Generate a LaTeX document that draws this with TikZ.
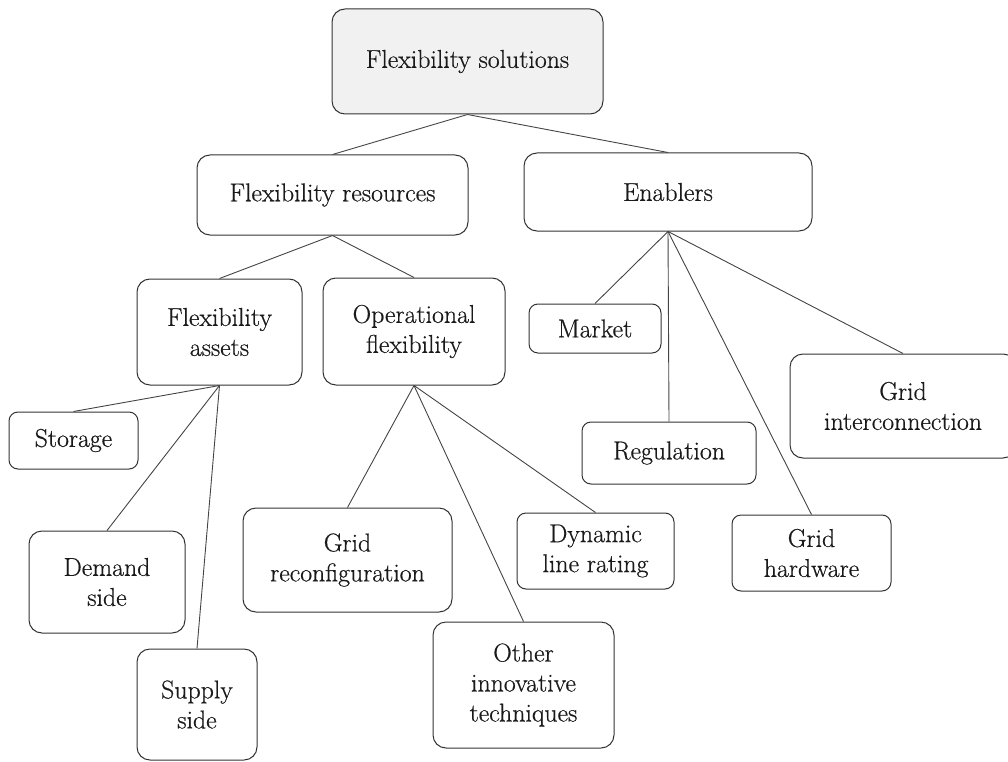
\documentclass[tikz,border=0pt]{standalone}
\usepackage{fontspec}
\newfontfamily\boxfont{Latin Modern Roman}[FakeBold=0.5]
\definecolor{boxline}{HTML}{333333}
\definecolor{linkline}{HTML}{444444}
\definecolor{rootfill}{HTML}{F1F1F1}
\definecolor{txt}{HTML}{1A1A1A}
\begin{document}
\begin{tikzpicture}[x=1pt,y=-1pt,
  box/.style={draw=boxline, line width=1pt, rounded corners=13pt, fill=white,
    align=center, inner sep=0pt, text=txt,
    font=\boxfont\fontsize{25.8}{30}\selectfont},
  smallbox/.style={box, rounded corners=9pt},
  link/.style={draw=linkline, line width=0.9pt}]
\useasboundingbox (0,0) rectangle (1008,762);

% top level
\node[box, fill=rootfill, minimum width=271pt, minimum height=105pt] (fs) at (467.5,61.5) {Flexibility solutions};

% second level
\node[box, minimum width=271pt, minimum height=80pt] (fr) at (332.5,195) {Flexibility resources};
\node[box, minimum width=288pt, minimum height=78pt] (en) at (668,192) {Enablers};

% resources
\node[box, minimum width=165pt, minimum height=106pt] (fa) at (219.5,332) {Flexibility\\assets};
\node[box, minimum width=182pt, minimum height=107pt] (of) at (414,331.5) {Operational\\flexibility};

% assets
\node[smallbox, minimum width=129pt, minimum height=57pt] (st) at (73.5,440.5) {Storage};
\node[box, minimum width=156pt, minimum height=102pt] (ds) at (107,582) {Demand\\side};
\node[box, minimum width=120pt, minimum height=111pt] (ss) at (197,704.5) {Supply\\side};

% operational flexibility
\node[box, minimum width=209pt, minimum height=104pt] (gr) at (347.5,560) {Grid\\reconfiguration};
\node[box, minimum width=181pt, minimum height=126pt] (oi) at (523.5,685) {Other\\innovative\\techniques};
\node[smallbox, minimum width=157pt, minimum height=76pt] (dl) at (595.5,551) {Dynamic\\line rating};

% enablers
\node[smallbox, minimum width=132pt, minimum height=49pt] (mk) at (595,328.5) {Market};
\node[smallbox, minimum width=174pt, minimum height=62pt] (rg) at (669,453) {Regulation};
\node[box, minimum width=226pt, minimum height=104pt] (gi) at (903,406) {Grid\\interconnection};
\node[smallbox, minimum width=159pt, minimum height=76pt] (gh) at (811.5,553) {Grid\\hardware};

% connectors
\draw[link] (fs.south) -- (fr.north);
\draw[link] (fs.south) -- (en.north);
\draw[link] (fr.south) -- (fa.north);
\draw[link] (fr.south) -- (of.north);
\draw[link] (fa.south) -- (st.north);
\draw[link] (fa.south) -- (ds.north);
\draw[link] (fa.south) -- (ss.north);
\draw[link] (of.south) -- (gr.north);
\draw[link] (of.south) -- (oi.north);
\draw[link] (of.south) -- (dl.north);
\draw[link] (en.south) -- (mk.north);
\draw[link] (en.south) -- (rg.north);
\draw[link] (en.south) -- (gh.north);
\draw[link] (en.south) -- (gi.north);
\end{tikzpicture}
\end{document}
